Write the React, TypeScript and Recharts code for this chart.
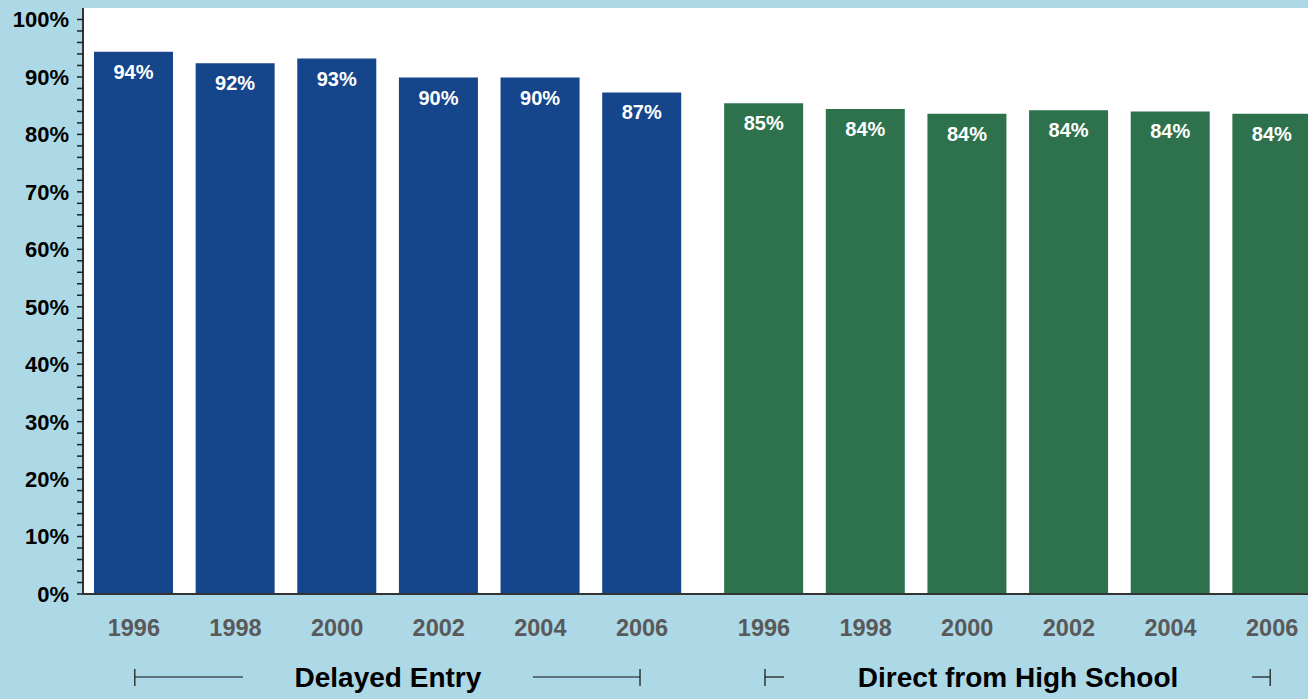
import React from 'react';
import { BarChart, Bar, XAxis, YAxis, CartesianGrid, Cell, LabelList } from 'recharts';

const years = ['1996', '1998', '2000', '2002', '2004', '2006'];
const delayedValues = [94.4, 92.4, 93.2, 89.9, 89.9, 87.3];
const directValues = [85.4, 84.4, 83.6, 84.2, 84.0, 83.6];
const groupLabels = ['Delayed Entry', 'Direct from High School'];
const yLabelTicks = [0, 10, 20, 30, 40, 50, 60, 70, 80, 90, 100];

const GROUP_GAP = 0.2;
const COLORS = ['#15458A', '#2E724D'];
const FONT = '"Liberation Sans", Arial, Helvetica, sans-serif';

type Row = { pos: number; year: string; value: number; group: number };

const rows: Row[] = [
  ...years.map((y, i) => ({ pos: i, year: y, value: delayedValues[i], group: 0 })),
  ...years.map((y, i) => ({ pos: years.length + GROUP_GAP + i, year: y, value: directValues[i], group: 1 })),
];
const xPositions = rows.map((r) => r.pos);
const groupCenters = [0, 1].map((g) => {
  const ps = rows.filter((r) => r.group === g).map((r) => r.pos);
  return (ps[0] + ps[ps.length - 1]) / 2;
});
const groupHalfSpan = [0, 1].map((g) => {
  const ps = rows.filter((r) => r.group === g).map((r) => r.pos);
  return (ps[ps.length - 1] - ps[0]) / 2;
});

const minorTicks: number[] = [];
for (let t = 0; t <= 100; t += 2) minorTicks.push(t);

const CHART_W = 1323;
const CHART_H = 699;
const Y_AXIS_W = 83;
const X_DOMAIN: [number, number] = [-0.5, xPositions[xPositions.length - 1] + 0.5];
const UNIT = (CHART_W - Y_AXIS_W) / (X_DOMAIN[1] - X_DOMAIN[0]);

const LABEL_HALF_GAP = [145, 234];

const YTick = (props: any) => {
  const { x, y, payload } = props;
  const v = payload.value;
  const isMajor = yLabelTicks.includes(v);
  return (
    <g>
      <line x1={x - 6} x2={x} y1={y} y2={y} stroke="#222" strokeWidth={1.5} />
      {isMajor && (
        <text x={x - 14} y={y} dy="0.36em" textAnchor="end" fontFamily={FONT} fontWeight="bold" fontSize={22} fill="#000">
          {v}%
        </text>
      )}
    </g>
  );
};

const YearTick = (props: any) => {
  const { x, y, payload } = props;
  const row = rows.find((r) => Math.abs(r.pos - payload.value) < 1e-6);
  return (
    <text x={x} y={y + 42} textAnchor="middle" fontFamily={FONT} fontWeight="bold" fontSize={23.5} fill="#595959">
      {row ? row.year : ''}
    </text>
  );
};

const GroupTick = (props: any) => {
  const { x, y, index } = props;
  const half = groupHalfSpan[index] * UNIT;
  const gap = LABEL_HALF_GAP[index];
  const ly = y + 28;
  const left = x - half + 1;
  const right = x + half - 2;
  return (
    <g>
      <line x1={left} x2={x - gap} y1={ly} y2={ly} stroke="#111" strokeWidth={1.2} />
      <line x1={x + gap} x2={right} y1={ly} y2={ly} stroke="#111" strokeWidth={1.2} />
      <line x1={left} x2={left} y1={ly - 8} y2={ly + 9} stroke="#111" strokeWidth={1.2} />
      <line x1={right} x2={right} y1={ly - 8} y2={ly + 9} stroke="#111" strokeWidth={1.2} />
      <text x={x} y={y + 38} textAnchor="middle" fontFamily={FONT} fontWeight="bold" fontSize={28} fill="#000">
        {groupLabels[index]}
      </text>
    </g>
  );
};

const BarValueLabel = (props: any) => {
  const { x, y, width, value } = props;
  return (
    <text x={x + width / 2} y={y + 27} textAnchor="middle" fontFamily={FONT} fontWeight="bold" fontSize={20} fill="#fff">
      {Math.round(value)}%
    </text>
  );
};

export default function App() {
  return (
    <div
      style={{
        position: 'fixed',
        left: 0,
        top: 0,
        width: 1308,
        height: 699,
        overflow: 'hidden',
        background: '#ADD8E6',
      }}
    >
      <BarChart width={CHART_W} height={CHART_H} data={rows} margin={{ top: 8, right: 0, bottom: 0, left: 0 }}>
        <CartesianGrid horizontal={false} vertical={false} fill="#fff" stroke="none" />
        <XAxis
          xAxisId="top"
          orientation="top"
          type="number"
          dataKey="pos"
          domain={X_DOMAIN}
          height={0}
          tick={false}
          tickLine={false}
          axisLine={{ stroke: '#3a3a3a', strokeWidth: 2 }}
        />
        <XAxis
          xAxisId={0}
          type="number"
          dataKey="pos"
          domain={X_DOMAIN}
          ticks={xPositions}
          interval={0}
          height={55}
          tickSize={0}
          tickMargin={0}
          tickLine={false}
          tick={<YearTick />}
          axisLine={{ stroke: '#333', strokeWidth: 2 }}
        />
        <XAxis
          xAxisId="grp"
          type="number"
          dataKey="pos"
          domain={X_DOMAIN}
          ticks={groupCenters}
          interval={0}
          height={50}
          tickSize={0}
          tickMargin={0}
          tickLine={false}
          axisLine={false}
          tick={<GroupTick />}
        />
        <YAxis
          type="number"
          domain={[0, 102]}
          ticks={minorTicks}
          interval={0}
          width={Y_AXIS_W}
          tickSize={0}
          tickMargin={0}
          tickLine={false}
          tick={<YTick />}
          axisLine={{ stroke: '#333', strokeWidth: 2 }}
        />
        <Bar dataKey="value" xAxisId={0} barSize={79} isAnimationActive={false}>
          {rows.map((r, i) => (
            <Cell key={i} fill={COLORS[r.group]} />
          ))}
          <LabelList dataKey="value" content={<BarValueLabel />} />
        </Bar>
      </BarChart>
    </div>
  );
}
